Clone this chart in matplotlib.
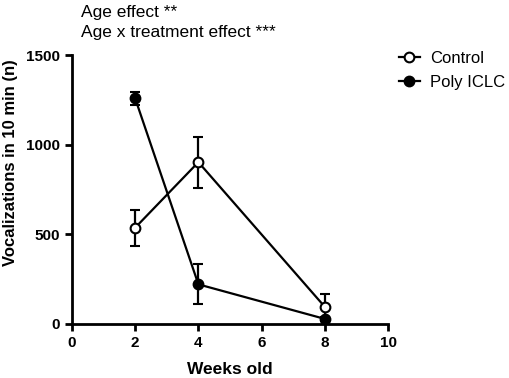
import matplotlib
matplotlib.use("Agg")
import matplotlib.pyplot as plt

plt.rcParams['font.family'] = ['Liberation Sans', 'DejaVu Sans']

weeks = [2, 4, 8]
control_mean = [537, 903, 95]
control_sem = [100, 143, 72]
poly_mean = [1259, 221, 28]
poly_sem = [37, 111, 12]

x_ticks = [0, 2, 4, 6, 8, 10]
y_ticks = [0, 500, 1000, 1500]

fig = plt.figure(figsize=(5.10, 3.78), dpi=100)
ax = fig.add_axes([0.141, 0.143, 0.620, 0.711])

lw = 1.6
ax.errorbar(weeks, control_mean, yerr=control_sem, color='black', lw=lw,
            marker='o', ms=7, mfc='white', mec='black', mew=1.5,
            capsize=3.5, capthick=lw, elinewidth=lw, label='Control', zorder=3)
ax.errorbar(weeks, poly_mean, yerr=poly_sem, color='black', lw=lw,
            marker='o', ms=7, mfc='black', mec='black', mew=1.5,
            capsize=3.5, capthick=lw, elinewidth=lw, label='Poly ICLC', zorder=3)

ax.set_xlim(0, 10)
ax.set_ylim(0, 1500)
ax.set_xticks(x_ticks)
ax.set_yticks(y_ticks)
for s in ['top', 'right']:
    ax.spines[s].set_visible(False)
for s in ['left', 'bottom']:
    ax.spines[s].set_linewidth(2)
ax.tick_params(width=2, length=5, labelsize=11)
for t in ax.get_xticklabels() + ax.get_yticklabels():
    t.set_fontweight('bold')

ax.set_xlabel('Weeks old', fontsize=12.5, fontweight='bold', labelpad=9)
ax.set_ylabel('Vocalizations in 10 min (n)', fontsize=12, fontweight='bold')
ax.yaxis.set_label_coords(-0.172, 0.60)

fig.text(0.159, 0.988, 'Age effect **', fontsize=12.5, va='top')
fig.text(0.159, 0.935, 'Age x treatment effect ***', fontsize=12.5, va='top')

h, l = ax.get_legend_handles_labels()
h = [x[0] for x in h]
fig.legend(h, l, loc='upper left', bbox_to_anchor=(0.752, 0.905), frameon=False,
           fontsize=12, handlelength=1.3, handletextpad=0.6, labelspacing=0.55)

fig.savefig('out.png', dpi=100)
